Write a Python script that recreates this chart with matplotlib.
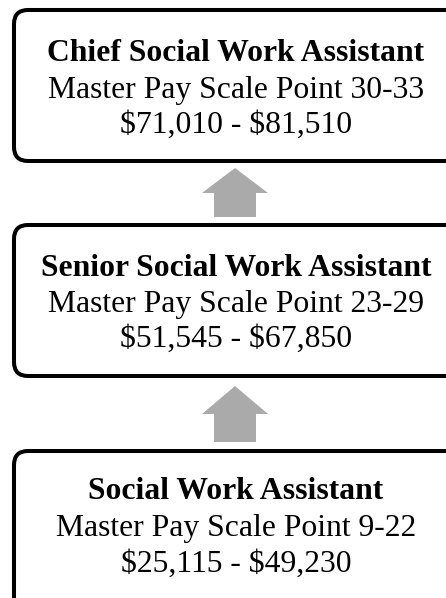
import matplotlib
matplotlib.use("Agg")
import matplotlib.pyplot as plt
from matplotlib.patches import FancyBboxPatch, Polygon

plt.rcParams["text.parse_math"] = False

titles = ["Chief Social Work Assistant", "Senior Social Work Assistant", "Social Work Assistant"]
scales = ["Master Pay Scale Point 30-33", "Master Pay Scale Point 23-29", "Master Pay Scale Point 9-22"]
salaries = ["$71,010 - $81,510", "$51,545 - $67,850", "$25,115 - $49,230"]

W, H = 446, 598
fig = plt.figure(figsize=(W / 100, H / 100), dpi=100)
ax = fig.add_axes([0, 0, 1, 1])
ax.set_xlim(0, W)
ax.set_ylim(H, 0)
ax.axis("off")

box_tops = [10, 225, 451]
box_heights = [151, 151, 170]
baselines = [(61, 98, 133), (276, 312, 347), (499, 536, 572)]
arrows = [(168, 193, 217), (386, 414, 442)]
cx = 236

for top, h, bl, t, s, sal in zip(box_tops, box_heights, baselines, titles, scales, salaries):
    p = FancyBboxPatch((14, top), 450, h, boxstyle="round,pad=0,rounding_size=14",
                       linewidth=2.9, edgecolor="black", facecolor="white", clip_on=True)
    ax.add_patch(p)
    ax.text(cx, bl[0], t, ha="center", va="baseline", fontsize=22.8, fontweight="bold",
            family="Liberation Serif")
    ax.text(cx, bl[1], s, ha="center", va="baseline", fontsize=22.8, family="Liberation Serif")
    ax.text(cx, bl[2], sal, ha="center", va="baseline", fontsize=22.8, family="Liberation Serif")

for tip, base, bottom in arrows:
    pts = [(235, tip), (268, base), (256, base), (256, bottom), (214, bottom), (214, base), (202, base)]
    ax.add_patch(Polygon(pts, closed=True, facecolor="#aaaaaa", edgecolor="none"))

fig.savefig("out.png", dpi=100)
